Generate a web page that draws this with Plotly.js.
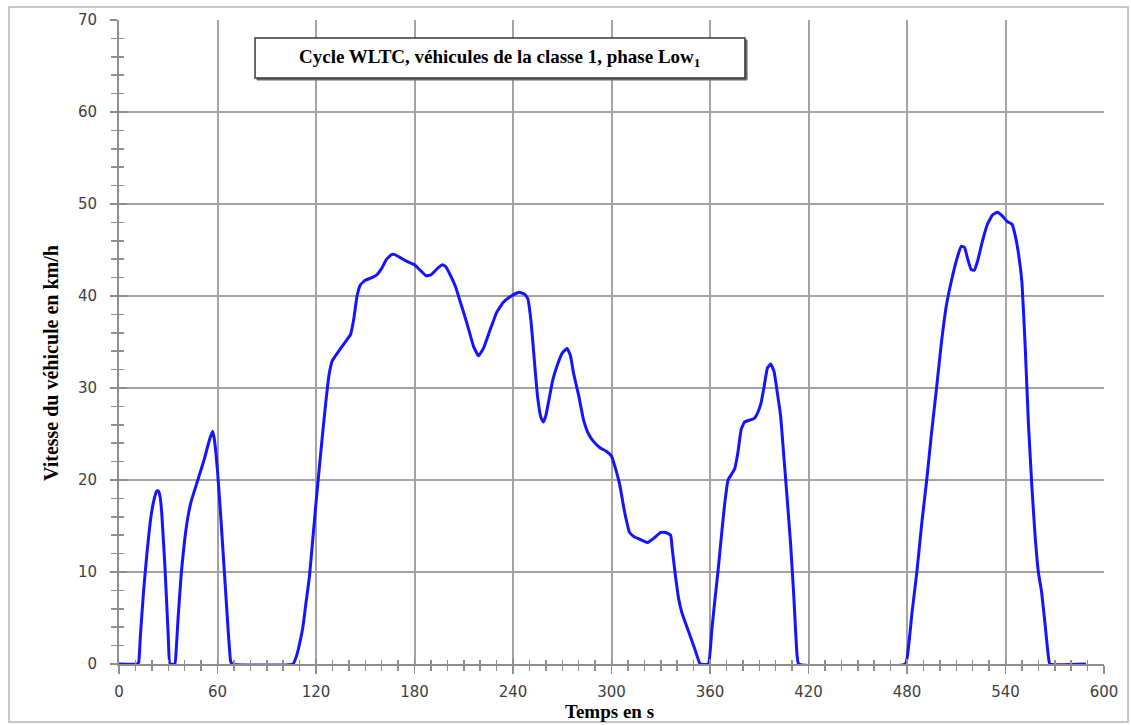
<!DOCTYPE html>
<html>
<head>
<meta charset="utf-8">
<script src="https://cdn.plot.ly/plotly-3.0.1.min.js"></script>
<style>html,body{margin:0;padding:0;background:#fff;}#chart{width:1131px;height:725px;}</style>
</head>
<body>
<div id="chart"></div>
<script>
// Time in seconds
const timeS = [0,11,12,13,15,17,19,21,23,24,25,26,28,30,31,34,35,36,38,40,42,44,48,52,55,57,58,60,62,64,66,68,69,
  106,108,110,112,114,116,118,120,122,124,126,128,130,133,137,141,143,145,147,150,154,157,160,163,166,168,172,176,180,184,187,190,194,197,199,202,205,208,212,216,219,222,226,230,234,238,242,244,247,249,251,253,255,257,258.5,260,262,264,267,270,273,275,277,280,283,286,289,293,297,300,302,305,308,311,314,318,322,326,330,333,336,337,339,341,343,347,351,354,
  359,361,363,365,367,369,371,373,375,377,379,381,384,387,389,391,393,395,397,399,401,403,405,407,409,411,413,414,
  479,481,483,486,489,492,495,498,501,504,507,510,513,515,517,519,521,523,526,529,532,535,538,541,544,546,548,550,552,554,556,558,560,562,564,566,567,589];
// Vehicle speed in km/h
const speedKmh = [0,0,0.2,3,8,12,15.4,17.6,18.8,18.8,18.2,16.5,10.5,3,0,0,2,5,10,13.5,16,17.7,20,22.3,24.3,25.3,24.5,21,16,10.5,5,0.3,0,
  0,0.8,2.2,4,6.8,9.5,13.5,17.5,21.3,25,28.5,31.5,33,33.8,34.8,35.8,37.5,40,41.2,41.7,42,42.3,43,44,44.5,44.5,44.1,43.7,43.4,42.7,42.2,42.3,43,43.4,43.2,42.2,41,39.3,37,34.5,33.5,34.3,36.3,38.2,39.3,39.9,40.3,40.4,40.2,39.7,37.2,33,29,26.8,26.3,27,28.8,30.7,32.5,33.8,34.3,33.5,31.5,29.2,26.5,25,24.2,23.5,23.1,22.6,21.5,19.5,16.5,14.3,13.8,13.5,13.2,13.7,14.3,14.3,14,12.5,9.5,7,5.5,3.5,1.5,0,
  0,3.5,7,10.3,14,17.5,20,20.6,21.2,23,25.5,26.3,26.5,26.7,27.3,28.3,30.2,32.2,32.6,31.8,29.5,27,22.5,18,13.3,7.5,1,0,
  0,2,5.5,10,15.3,20,25.2,30,35,39,41.6,43.8,45.4,45.3,44,42.9,42.8,43.8,46,47.8,48.8,49.1,48.7,48.1,47.8,46.5,44.5,41.5,34.5,26,19.5,14,10,7.8,4.5,1,0,0];

const xTickVals = [0,60,120,180,240,300,360,420,480,540,600];
const yTickVals = [0,10,20,30,40,50,60,70];
const chartTitle = 'Cycle WLTC, véhicules de la classe 1, phase Low<sub>1</sub>';
const xTitle = 'Temps en s';
const yTitle = 'Vitesse du véhicule en km/h';

const gridCol = '#a3a3a3';
const axCol = '#8f8f8f';
const tickFont = {family: 'DejaVu Sans, sans-serif', size: 15, color: '#404040'};
const serifBold = 'Liberation Serif, Times New Roman, serif';

const traces = [
  {x: timeS, y: speedKmh, type: 'scatter', mode: 'lines',
   line: {color: 'rgb(20,20,255)', width: 3, shape: 'spline', smoothing: 0.35},
   hoverinfo: 'x+y', showlegend: false},
  {x: [0], y: [0], xaxis: 'x2', yaxis: 'y2', type: 'scatter', mode: 'markers',
   marker: {opacity: 0}, hoverinfo: 'skip', showlegend: false}
];

const layout = {
  width: 1131, height: 725,
  margin: {l: 119, r: 27, t: 20, b: 61},
  paper_bgcolor: '#fff', plot_bgcolor: '#fff',
  showlegend: false,
  xaxis: {
    range: [0, 600], tickvals: xTickVals, ticktext: xTickVals.map(String),
    showgrid: true, gridcolor: gridCol, gridwidth: 2,
    zeroline: false, showline: true, linecolor: axCol, linewidth: 2,
    ticks: 'outside', ticklen: 8, tickwidth: 1.5, tickcolor: axCol,
    minor: {dtick: 10, tick0: 0, ticks: 'outside', ticklen: 5, tickwidth: 1.5, tickcolor: axCol, showgrid: false},
    tickfont: tickFont, ticklabelstandoff: 5, fixedrange: true
  },
  yaxis: {
    range: [0, 70], tickvals: yTickVals, ticktext: yTickVals.map(String),
    showgrid: true, gridcolor: gridCol, gridwidth: 2,
    zeroline: false, showline: true, linecolor: axCol, linewidth: 2,
    ticks: 'outside', ticklen: 7, tickwidth: 1.5, tickcolor: axCol,
    minor: {dtick: 2, tick0: 0, ticks: 'outside', ticklen: 6, tickwidth: 1.5, tickcolor: axCol, showgrid: false},
    tickfont: tickFont, ticklabelstandoff: 10, fixedrange: true
  },
  xaxis2: {
    overlaying: 'x', anchor: 'y2', range: [0, 600], side: 'bottom',
    showgrid: false, zeroline: false, showline: false, showticklabels: false,
    tickvals: xTickVals, ticks: 'inside', ticklen: 5, tickwidth: 1.5, tickcolor: axCol,
    minor: {dtick: 10, tick0: 0, ticks: 'inside', ticklen: 4, tickwidth: 1.5, tickcolor: axCol, showgrid: false},
    fixedrange: true
  },
  yaxis2: {
    overlaying: 'y', anchor: 'x2', range: [0, 70], side: 'left',
    showgrid: false, zeroline: false, showline: false, showticklabels: false,
    tickvals: yTickVals, ticks: 'inside', ticklen: 8, tickwidth: 1.5, tickcolor: axCol,
    minor: {dtick: 2, tick0: 0, ticks: 'inside', ticklen: 5, tickwidth: 1.5, tickcolor: axCol, showgrid: false},
    fixedrange: true
  },
  shapes: [
    // outer frame
    {type: 'rect', xref: 'paper', yref: 'paper', x0: -0.1117, x1: 1.0244, y0: -0.0901, y1: 1.0202,
     line: {color: '#b5b5b5', width: 1.5}, fillcolor: 'rgba(0,0,0,0)', layer: 'below'},
    // title box shadow
    {type: 'rect', xref: 'paper', yref: 'paper', x0: 0.1401, x1: 0.6376, y0: 0.9068, y1: 0.9690,
     line: {color: '#6a6a6a', width: 1}, fillcolor: '#6a6a6a', layer: 'above'},
    // title box
    {type: 'rect', xref: 'paper', yref: 'paper', x0: 0.1381, x1: 0.6355, y0: 0.9099, y1: 0.9720,
     line: {color: '#3a3a3a', width: 1.5}, fillcolor: '#ffffff', layer: 'above'}
  ],
  annotations: [
    {text: '<b>' + chartTitle + '</b>', xref: 'paper', yref: 'paper', x: 0.3868, y: 0.941, showarrow: false,
     xanchor: 'center', yanchor: 'middle', font: {family: serifBold, size: 19, color: '#000'}},
    {text: '<b>' + xTitle + '</b>', xref: 'paper', yref: 'paper', x: 0.4975, y: -0.0745, showarrow: false,
     xanchor: 'center', yanchor: 'middle', font: {family: serifBold, size: 19, color: '#000'}},
    {text: '<b>' + yTitle + '</b>', xref: 'paper', yref: 'paper', x: -0.069, y: 0.4674, showarrow: false,
     textangle: -90, xanchor: 'center', yanchor: 'middle', font: {family: serifBold, size: 20, color: '#000'}}
  ]
};

Plotly.newPlot('chart', traces, layout, {displayModeBar: false, staticPlot: true});
</script>
</body>
</html>
